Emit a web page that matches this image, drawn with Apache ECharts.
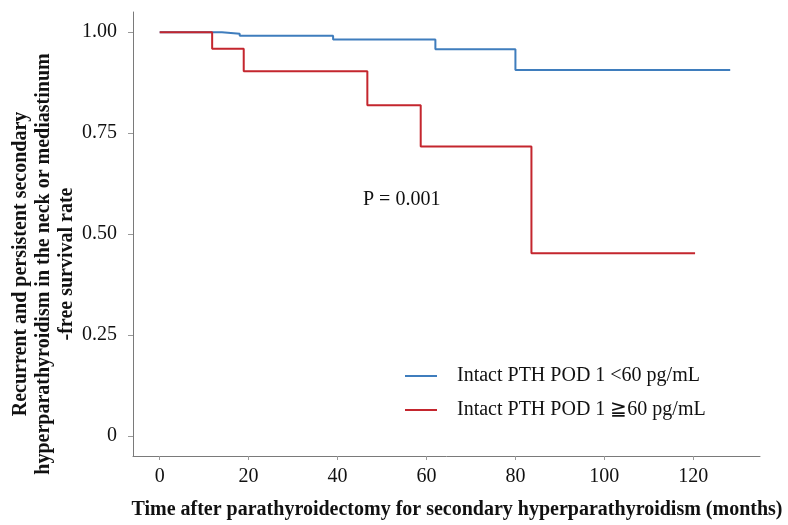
<!DOCTYPE html>
<html>
<head>
<meta charset="utf-8">
<script src="https://cdn.jsdelivr.net/npm/echarts@6/dist/echarts.min.js"></script>
<style>html,body{margin:0;padding:0;background:#fff;}#c{width:788px;height:525px;}</style>
</head>
<body>
<div id="c"></div>
<script>
// Kaplan-Meier step data: [months, survival rate]
const lowPTH = [[0,1.0],[14,0.996],[18,0.991],[39,0.982],[62,0.958],[80,0.906],[128.3,0.906]];
const highPTH = [[0,1.0],[11.8,0.959],[18.9,0.903],[46.7,0.819],[58.7,0.717],[83.6,0.452],[120.4,0.452]];
const seriesNames = ['Intact PTH POD 1 <60 pg/mL', 'Intact PTH POD 1 \u226760 pg/mL'];
const xTicks = [0,20,40,60,80,100,120];
const yTicks = [0,0.25,0.5,0.75,1.0];
const pText = 'P = 0.001';
const xTitle = 'Time after parathyroidectomy for secondary hyperparathyroidism (months)';
const yTitle = 'Recurrent and persistent secondary\nhyperparathyroidism in the neck or mediastinum\n-free survival rate';

const serif = '"Liberation Serif", "DejaVu Serif", serif';
const chart = echarts.init(document.getElementById('c'));
chart.setOption({
  animation: false,
  grid: {left: 133, right: 28, top: 12, bottom: 69},
  xAxis: {
    type: 'value', min: -6, max: 135,
    splitLine: {show: false},
    axisLine: {onZero: false, lineStyle: {color: '#7a7a7a', width: 1}},
    axisTick: {show: true, length: 4, customValues: xTicks, lineStyle: {color: '#999'}},
    axisLabel: {customValues: xTicks, fontFamily: serif, fontSize: 20, color: '#111', margin: 11}
  },
  yAxis: {
    type: 'value', min: -0.05, max: 1.05,
    splitLine: {show: false},
    axisLine: {show: true, onZero: false, lineStyle: {color: '#7a7a7a', width: 1}},
    axisTick: {show: true, length: 5, customValues: yTicks, lineStyle: {color: '#999'}},
    axisLabel: {customValues: yTicks, fontFamily: serif, fontSize: 20, color: '#111', margin: 16,
      formatter: v => v === 0 ? '0' : v.toFixed(2)}
  },
  legend: {
    orient: 'vertical', left: 400, top: 361, itemGap: 14,
    icon: 'rect', itemWidth: 32, itemHeight: 2,
    textStyle: {fontFamily: serif, fontSize: 20, color: '#111', padding: [0,0,0,15]},
    data: seriesNames
  },
  series: [
    {name: seriesNames[0], type: 'line', step: 'end', data: lowPTH, showSymbol: false,
     lineStyle: {color: '#3f7dbd', width: 2}, itemStyle: {color: '#3f7dbd'}},
    {name: seriesNames[1], type: 'line', step: 'end', data: highPTH, showSymbol: false,
     lineStyle: {color: '#c4262e', width: 2}, itemStyle: {color: '#c4262e'}}
  ],
  graphic: [
    {type: 'text', x: 363, y: 200, style: {text: pText, font: '20px ' + serif, fill: '#111', verticalAlign: 'middle'}},
    {type: 'text', x: 457, y: 510, style: {text: xTitle, font: 'bold 20px ' + serif, fill: '#111', align: 'center', verticalAlign: 'middle'}},
    {type: 'text', x: 44, y: 264, rotation: Math.PI / 2,
     style: {text: yTitle, font: 'bold 20px ' + serif, fill: '#111', align: 'center', verticalAlign: 'middle', lineHeight: 23}}
  ]
});
</script>
</body>
</html>
